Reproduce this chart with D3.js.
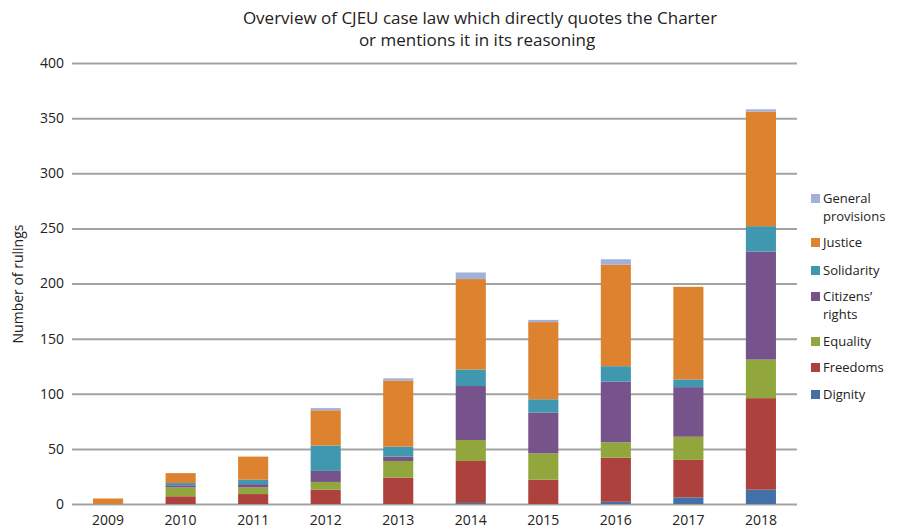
<!DOCTYPE html>
<html>
<head>
<meta charset="utf-8">
<script src="https://cdn.jsdelivr.net/npm/d3@7"></script>
<style>
  body { margin: 0; background: #fff; overflow: hidden; }
  svg { display: block; }
  text { font-family: "Open Sans", "DejaVu Sans", sans-serif; fill: #222; }
</style>
</head>
<body>
<div id="chart"></div>
<script>
// years on x axis
const years = ['2009', '2010', '2011', '2012', '2013', '2014', '2015', '2016', '2017', '2018'];
// stacked series, bottom to top
const dignity     = [0, 0, 0, 0, 0, 1, 0, 2, 6, 13];
const freedoms    = [0, 7, 9, 13, 24, 38, 22, 40, 34, 83];
const equality    = [0, 8, 6, 7, 15, 19, 24, 14, 21, 35];
const citizens    = [0, 2, 3, 10, 4, 49, 37, 55, 45, 98];
const solidarity  = [0, 2, 4, 23, 9, 15, 12, 14, 7, 23];
const justice     = [5, 9, 21, 32, 60, 82, 70, 92, 84, 104];
const general     = [0, 0, 0, 2, 2, 6, 2, 5, 0, 2];
const yTickValues = [0, 50, 100, 150, 200, 250, 300, 350, 400];

const seriesNames = ['Dignity', 'Freedoms', 'Equality', "Citizens' rights", 'Solidarity', 'Justice', 'General provisions'];
const seriesData = [dignity, freedoms, equality, citizens, solidarity, justice, general];
const colors = ['#4470A8', '#AD413D', '#92A63E', '#76538B', '#4097B0', '#DD822E', '#A1B1D8'];

const width = 898;
const height = 532;
const margin = {left: 72, right: 101, top: 63, bottom: 28};
const innerWidth = width - margin.left - margin.right;
const innerHeight = height - margin.top - margin.bottom;

const svg = d3.select('#chart').append('svg')
  .attr('width', width)
  .attr('height', height);

// title
svg.append('text')
  .attr('x', 480).attr('y', 24)
  .attr('text-anchor', 'middle')
  .attr('font-size', 17)
  .attr('font-weight', 500)
  .text('Overview of CJEU case law which directly quotes the Charter');
svg.append('text')
  .attr('x', 477).attr('y', 46)
  .attr('text-anchor', 'middle')
  .attr('font-size', 17)
  .attr('font-weight', 500)
  .text('or mentions it in its reasoning');

const g = svg.append('g')
  .attr('transform', `translate(${margin.left},${margin.top})`);

const table = years.map((y, i) => {
  const row = {year: y};
  seriesNames.forEach((s, k) => { row[s] = seriesData[k][i]; });
  return row;
});

const xScale = d3.scaleBand()
  .domain(years)
  .range([0, innerWidth])
  .paddingInner(0.585)
  .paddingOuter(0.29);

const yScale = d3.scaleLinear()
  .domain([0, 400])
  .range([innerHeight, 0]);

const yAxis = d3.axisLeft(yScale)
  .tickValues(yTickValues)
  .tickSize(-innerWidth)
  .tickPadding(8);

const yAxisG = g.append('g').call(yAxis)
  .attr('font-size', 14)
  .attr('font-family', null);
yAxisG.select('.domain').remove();
yAxisG.selectAll('.tick line')
  .attr('stroke', '#a3a3a3')
  .attr('stroke-width', 2);

const xAxisG = g.append('g')
  .attr('transform', `translate(0,${innerHeight})`)
  .call(d3.axisBottom(xScale).tickSize(0).tickPadding(11))
  .attr('font-size', 14)
  .attr('font-family', null);
xAxisG.select('.domain').remove();

// y label
svg.append('text')
  .attr('transform', 'translate(23,284) rotate(-90)')
  .attr('text-anchor', 'middle')
  .attr('font-size', 14)
  .text('Number of rulings');

const stack = d3.stack().keys(seriesNames);
const layers = stack(table);

g.selectAll('g.layer').data(layers)
  .enter().append('g')
  .attr('class', 'layer')
  .attr('fill', (d, i) => colors[i])
  .selectAll('rect').data(d => d)
  .enter().append('rect')
  .attr('x', d => xScale(d.data.year))
  .attr('width', xScale.bandwidth())
  .attr('y', d => yScale(d[1]))
  .attr('height', d => yScale(d[0]) - yScale(d[1]));

// legend, top to bottom
const legendItems = [
  {k: 6, lines: ['General', 'provisions'], y: 198},
  {k: 5, lines: ['Justice'], y: 242},
  {k: 4, lines: ['Solidarity'], y: 270},
  {k: 3, lines: ['Citizens\u2019', 'rights'], y: 296},
  {k: 2, lines: ['Equality'], y: 341},
  {k: 1, lines: ['Freedoms'], y: 367},
  {k: 0, lines: ['Dignity'], y: 394}
];
const legend = svg.append('g');
legendItems.forEach(item => {
  legend.append('rect')
    .attr('x', 811).attr('y', item.y - 4)
    .attr('width', 9).attr('height', 9)
    .attr('fill', colors[item.k]);
  item.lines.forEach((ln, j) => {
    legend.append('text')
      .attr('x', 823).attr('y', item.y + 5 + j * 18)
      .attr('font-size', 13)
      .text(ln);
  });
});
</script>
</body>
</html>
